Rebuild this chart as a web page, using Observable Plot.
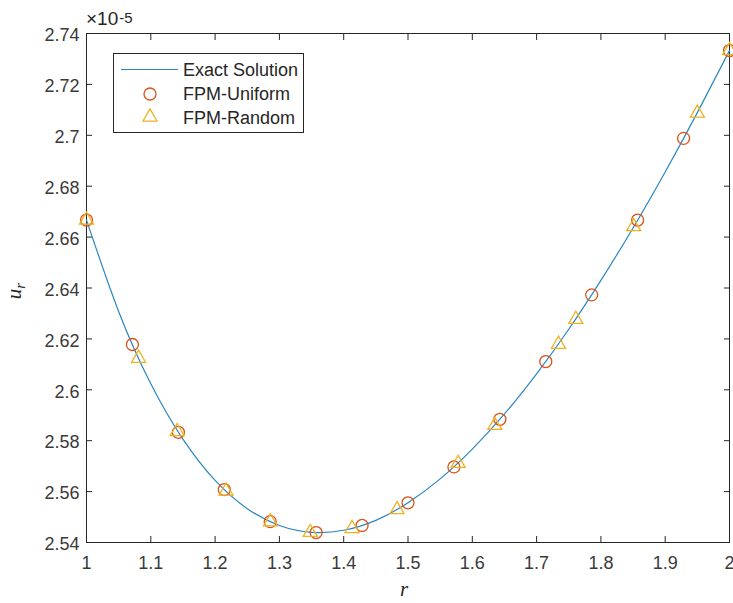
<!DOCTYPE html>
<html>
<head>
<meta charset="utf-8">
<script src="https://cdn.jsdelivr.net/npm/d3@7"></script>
<script src="https://cdn.jsdelivr.net/npm/@observablehq/plot@0.6"></script>
<style>
  body { margin: 0; background: #fff; }
  #chart { position: relative; width: 733px; height: 603px; }
  #expo { position: absolute; left: 86px; top: 9px; font-family: 'Liberation Sans', Arial, sans-serif;
          font-size: 19px; line-height: 20px; color: #262626; white-space: nowrap; }
  #expo sup { font-size: 15px; position: relative; top: -2px; vertical-align: baseline; margin-left: 1px; }
</style>
</head>
<body>
<div id="chart"><div id="expo"></div></div>
<script>
// ---- data (u in units of 1e-5) ----
const exactR = [1.00,1.05,1.10,1.15,1.20,1.25,1.30,1.35,1.40,1.45,1.50,1.55,1.60,1.65,1.70,1.75,1.80,1.85,1.90,1.95,2.00];
const exactU = [2.6667,2.6308,2.6024,2.5806,2.5644,2.5533,2.5467,2.5440,2.5448,2.5487,2.5556,2.5650,2.5767,2.5905,2.6063,2.6238,2.6430,2.6636,2.6856,2.7089,2.7333];

const uniformR = [1.0000,1.0714,1.1429,1.2143,1.2857,1.3571,1.4286,1.5000,1.5714,1.6429,1.7143,1.7857,1.8571,1.9286,2.0000];
const uniformU = [2.6667,2.6178,2.5833,2.5608,2.5482,2.5439,2.5467,2.5556,2.5697,2.5884,2.6111,2.6373,2.6667,2.6988,2.7333];

const randomR = [1.000,1.081,1.141,1.217,1.286,1.348,1.413,1.483,1.578,1.635,1.734,1.761,1.851,1.950,2.000];
const randomU = [2.6667,2.6124,2.5836,2.5602,2.5481,2.5440,2.5455,2.5529,2.5711,2.5860,2.6179,2.6277,2.6641,2.7087,2.7333];

const xTicks = [1,1.1,1.2,1.3,1.4,1.5,1.6,1.7,1.8,1.9,2];
const yTicks = [2.54,2.56,2.58,2.6,2.62,2.64,2.66,2.68,2.7,2.72,2.74];
const legendLabels = ["Exact Solution","FPM-Uniform","FPM-Random"];
const xLabel = "r";
const yLabel = "u";
const yLabelSub = "r";
const exponentBase = "×10";
const exponentPower = "-5";

// ---- tables ----
const exact = exactR.map((r, i) => ({r, u: exactU[i]}));
const uniform = uniformR.map((r, i) => ({r, u: uniformU[i]}));
const random = randomR.map((r, i) => ({r, u: randomU[i]}));

const ink = "#262626";
const lineColor = "#2a86c2";
const circleColor = "#D95319";
const triColor = "#EDB120";
const font = "'Liberation Sans', Arial, Helvetica, sans-serif";
const fmt = d => String(+d.toFixed(2));

const plot = Plot.plot({
  width: 733,
  height: 603,
  marginLeft: 86,
  marginRight: 4,
  marginTop: 33,
  marginBottom: 61,
  style: {fontFamily: font, fontSize: "18px", color: ink, background: "white", overflow: "visible"},
  x: {domain: [1, 2]},
  y: {domain: [2.54, 2.74]},
  marks: [
    Plot.axisX(xTicks, {anchor: "bottom", tickSize: 0, tickPadding: 14, tickFormat: fmt, label: null, fill: "#3a3a3a"}),
    Plot.axisX(xTicks, {anchor: "bottom", tickSize: -6, fill: "none", label: null, stroke: ink}),
    Plot.axisX(xTicks, {anchor: "top", tickSize: -6, fill: "none", label: null, stroke: ink}),
    Plot.axisY(yTicks, {anchor: "left", tickSize: 0, tickPadding: 7, tickFormat: fmt, label: null, fill: "#3a3a3a", dy: 2}),
    Plot.axisY(yTicks, {anchor: "left", tickSize: -6, fill: "none", label: null, stroke: ink}),
    Plot.axisY(yTicks, {anchor: "right", tickSize: -6, fill: "none", label: null, stroke: ink}),
    Plot.frame({stroke: ink, strokeWidth: 1}),
    Plot.line(exact, {x: "r", y: "u", stroke: lineColor, strokeWidth: 1.2, curve: "natural"}),
    Plot.dot(uniform, {x: "r", y: "u", r: 6, stroke: circleColor, strokeWidth: 1.3, fill: "none"}),
    Plot.dot(random, {x: "r", y: "u", symbol: "triangle", r: 5.2, stroke: triColor, strokeWidth: 1.3, fill: "none"})
  ]
});

const chart = document.getElementById("chart");
chart.insertBefore(plot, chart.firstChild);

// exponent (HTML overlay above the frame's top-left corner)
const expo = document.getElementById("expo");
expo.textContent = exponentBase;
const sup = document.createElement("sup");
sup.textContent = exponentPower;
expo.appendChild(sup);

// ---- annotations: axis labels, legend ----
const svg = d3.select(plot);
const ann = svg.append("g").attr("text-anchor", "start");

// x label
ann.append("text")
  .attr("x", 404).attr("y", 596)
  .attr("text-anchor", "middle")
  .attr("font-family", "'Liberation Serif', 'DejaVu Serif', serif")
  .attr("font-style", "italic")
  .attr("font-size", 21)
  .attr("fill", ink)
  .text(xLabel);

// y label (rotated)
const yl = ann.append("text")
  .attr("transform", "translate(21,291) rotate(-90)")
  .attr("text-anchor", "middle")
  .attr("font-family", "'Liberation Serif', 'DejaVu Serif', serif")
  .attr("font-style", "italic")
  .attr("font-size", 21)
  .attr("fill", ink);
yl.append("tspan").text(yLabel);
yl.append("tspan").attr("font-size", 15).attr("dy", 4).text(yLabelSub);

// legend
const lg = ann.append("g");
lg.append("rect")
  .attr("x", 113.5).attr("y", 53.5).attr("width", 190).attr("height", 79)
  .attr("fill", "white").attr("stroke", ink).attr("stroke-width", 1);
lg.append("line")
  .attr("x1", 121).attr("x2", 178).attr("y1", 69.5).attr("y2", 69.5)
  .attr("stroke", lineColor).attr("stroke-width", 1.2);
lg.append("circle")
  .attr("cx", 150).attr("cy", 94).attr("r", 6)
  .attr("fill", "none").attr("stroke", circleColor).attr("stroke-width", 1.3);
lg.append("path")
  .attr("transform", "translate(150,117)")
  .attr("d", d3.symbol(d3.symbolTriangle, Math.PI * 5.2 * 5.2)())
  .attr("fill", "none").attr("stroke", triColor).attr("stroke-width", 1.3);
const rows = [70, 94, 118];
legendLabels.forEach((t, i) => {
  lg.append("text")
    .attr("x", 183).attr("y", rows[i])
    .attr("dy", "0.35em")
    .attr("text-anchor", "start")
    .attr("font-family", font)
    .attr("font-size", 18)
    .attr("fill", ink)
    .text(t);
});
</script>
</body>
</html>
